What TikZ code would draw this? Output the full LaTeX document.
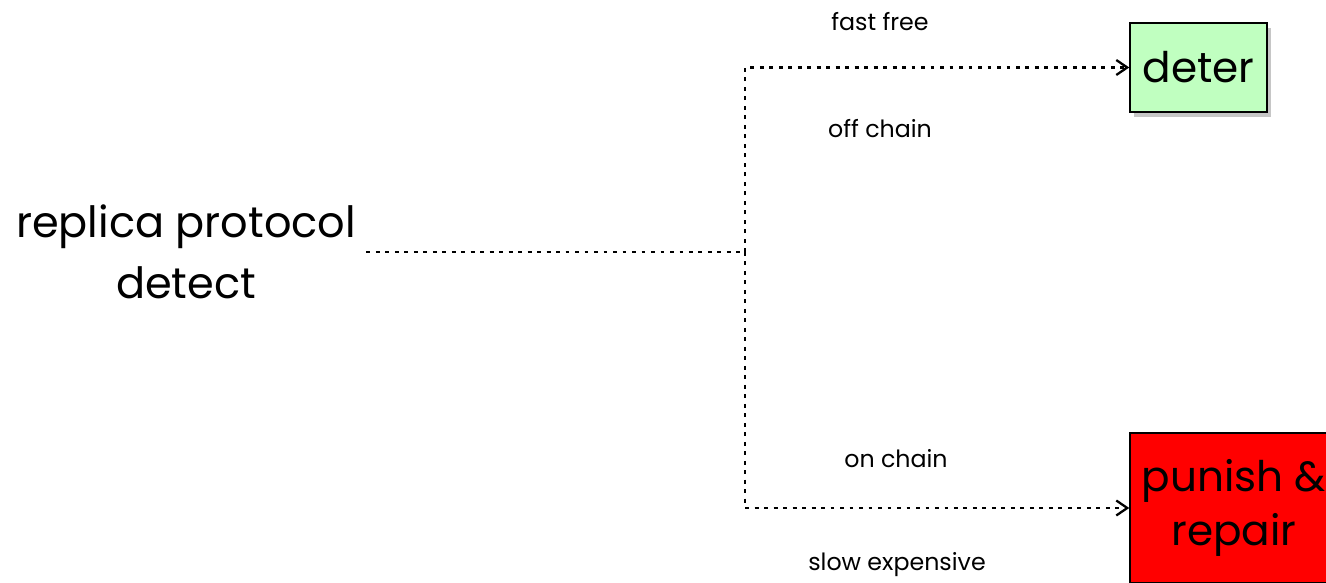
\documentclass[tikz,border=0pt]{standalone}
\usepackage{fontspec}
\setmainfont{Poppins}
\usetikzlibrary{arrows.meta, positioning, calc, shadows}
\definecolor{cDeter}{RGB}{192,255,192}
\definecolor{cPunish}{RGB}{255,0,0}
\tikzset{
	outcome/.style={rectangle, draw=black, thick, align=center, inner sep=2pt, font=\fontsize{24}{31}\selectfont, drop shadow={opacity=0.45, shadow xshift=0.7mm, shadow yshift=-1.1mm}},
	dotline/.style={line width=1.3pt, dash pattern=on 2.2pt off 3.2pt},
	dotarrow/.style={dotline, -{Straight Barb[length=2.2mm, width=3mm]}},
	lbl/.style={font=\fontsize{13.5}{16}\selectfont},
}
\begin{document}
\begin{tikzpicture}
	\clip (0,0) rectangle (26.52,11.66);
	\node[align=center, font=\fontsize{24.5}{34.6}\selectfont, inner sep=0.2cm] (src) at (3.72,6.62) {replica protocol\\detect};
	\coordinate (split) at (14.9,6.62);
	\node[outcome, fill=cDeter, minimum width=2.74cm, minimum height=1.78cm] (deter) at (23.97,10.31) {deter};
	\node[outcome, fill=cPunish, minimum width=4.16cm, minimum height=3.0cm] (punish) at (24.68,1.5) {punish \&\\repair};
	\draw[dotline] (src.east) -- (split);
	\draw[dotarrow] (split) |- (deter.west);
	\draw[dotarrow] (split) |- (punish.west);
	% branch labels
	\node[lbl] (fast) at (17.6,11.22) {fast free};
	\node[lbl] (off) at (17.6,9.08) {off chain};
	\node[lbl] (on) at (17.92,2.48) {on chain};
	\node[lbl] (slow) at (17.94,0.36) {slow expensive};
\end{tikzpicture}
\end{document}
